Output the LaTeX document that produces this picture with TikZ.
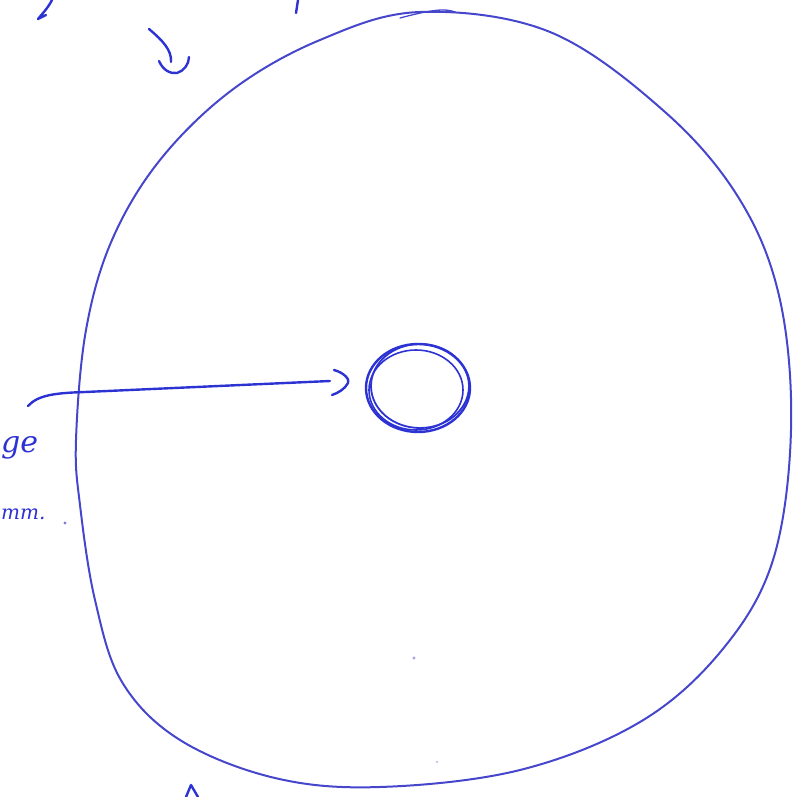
\documentclass[tikz,border=0pt]{standalone}
\usepackage{fontspec}
\setmainfont{DejaVu Serif}
\definecolor{pen}{RGB}{70,70,205}
\definecolor{inkdark}{RGB}{45,50,210}
\tikzset{
  penline/.style={draw=pen, line width=2pt, line cap=round, line join=round},
  inkline/.style={draw=inkdark, line width=2.4pt, line cap=round, line join=round},
  hand/.style={text=inkdark, font=\fontsize{30}{30}\selectfont\itshape, inner sep=0pt}
}
\begin{document}
\begin{tikzpicture}[x=1pt,y=-1pt]
\useasboundingbox (0,0) rectangle (803,797);
% outer circle
\draw[penline] plot[smooth cycle, tension=0.6] coordinates {
 (420,12) (550,32) (665,112) (740,200) (780,300) (791,430) (773,560)
 (722,650) (640,722) (520,770) (380,787) (275,778) (180,740) (122,682)
 (95,600) (80,505) (76,440) (86,330) (112,240) (160,160) (232,90) (320,40)};
\draw[penline, line width=1.3pt] (400,18) .. controls (430,10) and (445,8) .. (455,12);
% inner circle (several strokes)
\coordinate (c) at (418,388);
\draw[inkline] (c) ellipse [x radius=52, y radius=44];
\draw[inkline, line width=1.8pt] (420,386) ellipse [x radius=49, y radius=42];
\draw[inkline, line width=1.6pt] (416,390) ellipse [x radius=47, y radius=40];
\node[circle, minimum size=90pt, inner sep=0pt] (inner) at (c) {};
% arrow from left
\coordinate (start) at (28,406);
\coordinate (tip) at (348,381);
\draw[inkline] (start) .. controls (38,395) and (55,393) .. (85,392) -- (330,381);
\draw[inkline] (334,370) .. controls (345,373) and (350,380) .. (348,383) .. controls (345,389) and (338,393) .. (332,395);
% top arrow
\draw[inkline] (149,29) .. controls (162,40) and (172,50) .. (171,62);
\draw[inkline] (159,61) .. controls (163,70) and (170,74) .. (177,73) .. controls (184,71) and (189,64) .. (189,57);
% cut-off fragments
\draw[inkline] (52,0) .. controls (48,8) and (42,14) .. (38,19) -- (46,15);
\draw[inkline] (298,0) -- (296,13);
\draw[inkline] (186,797) -- (191,785) -- (198,797);
\node[hand, anchor=west] (ge) at (1,448) {ge};
\node[hand, anchor=west, font=\fontsize{20}{20}\selectfont\itshape] (mm) at (1,514) {mm.};
% stray dots
\fill[pen!70] (65,523) circle (1.6pt);
\fill[pen!50] (414,658) circle (1.6pt);
\fill[pen!40] (437,762) circle (1.2pt);
\end{tikzpicture}
\end{document}
